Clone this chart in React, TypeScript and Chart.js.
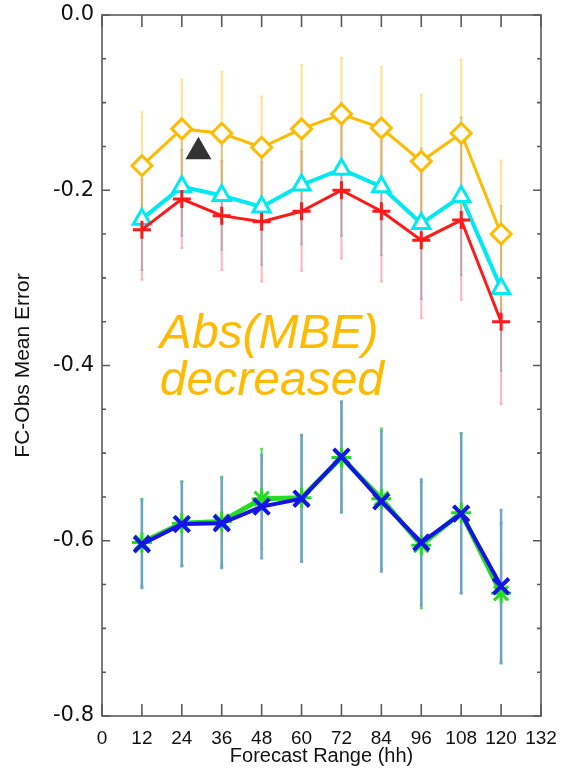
import React, { useEffect, useRef } from "react";
import { Chart, registerables } from "chart.js";

Chart.register(...registerables);

// ---- data ----
const hours = [12, 24, 36, 48, 60, 72, 84, 96, 108, 120];

const yellowMean = [-0.172, -0.130, -0.135, -0.151, -0.130, -0.113, -0.129, -0.167, -0.135, -0.250];
const yellowErr = [0.061, 0.056, 0.070, 0.058, 0.073, 0.064, 0.070, 0.076, 0.084, 0.084];

const cyanMean = [-0.233, -0.196, -0.206, -0.219, -0.194, -0.176, -0.196, -0.238, -0.207, -0.312];
const cyanErr = [0.058, 0.056, 0.062, 0.066, 0.068, 0.076, 0.078, 0.086, 0.090, 0.094];

const redMean = [-0.245, -0.210, -0.229, -0.236, -0.224, -0.200, -0.224, -0.257, -0.234, -0.350];
const redErr = [0.057, 0.056, 0.062, 0.068, 0.068, 0.078, 0.080, 0.089, 0.091, 0.094];

const greenMean = [-0.602, -0.580, -0.578, -0.552, -0.551, -0.505, -0.552, -0.605, -0.568, -0.660];
const greenErr = [0.050, 0.048, 0.051, 0.057, 0.072, 0.063, 0.080, 0.072, 0.091, 0.080];

const blueMean = [-0.604, -0.581, -0.580, -0.561, -0.552, -0.504, -0.555, -0.602, -0.569, -0.652];
const blueErr = [0.050, 0.048, 0.051, 0.059, 0.072, 0.063, 0.080, 0.072, 0.091, 0.087];

const xTicks = [0, 12, 24, 36, 48, 60, 72, 84, 96, 108, 120, 132];
const yTicks = [0, -0.2, -0.4, -0.6, -0.8];
const yMinorTicks = [-0.05, -0.1, -0.15, -0.25, -0.3, -0.35, -0.45, -0.5, -0.55, -0.65, -0.7, -0.75];

const triangleMarker = [{ x: 29, y: -0.156 }];
const annotationLines = ["Abs(MBE)", "decreased"];
const annotationAnchor = { x: 17.4, y1: -0.380, y2: -0.434 };

const xTitle = "Forecast Range (hh)";
const yTitle = "FC-Obs Mean Error";

const ORANGE = "#FFBB00";

const toPts = (vals: number[]) => hours.map((h, i) => ({ x: h, y: vals[i] }));

const errorSpecs = [
  { mean: greenMean, err: greenErr, color: "rgba(60,220,60,0.9)", width: 2 },
  { mean: blueMean, err: blueErr, color: "rgba(110,160,205,0.95)", width: 2.5 },
  { mean: redMean, err: redErr, color: "rgba(255,120,140,0.55)", width: 2 },
  { mean: cyanMean, err: cyanErr, color: "rgba(110,140,150,0.45)", width: 2 },
  { mean: yellowMean, err: yellowErr, color: "rgba(255,200,40,0.5)", width: 2 },
];

const errorBarPlugin = {
  id: "errorBars",
  beforeDatasetsDraw(chart: any) {
    const { ctx, scales } = chart;
    const x = scales.x;
    const y = scales.y;
    ctx.save();
    errorSpecs.forEach((spec) => {
      ctx.strokeStyle = spec.color;
      ctx.lineWidth = spec.width;
      hours.forEach((h, i) => {
        const px = x.getPixelForValue(h);
        const top = y.getPixelForValue(spec.mean[i] + spec.err[i]);
        const bot = y.getPixelForValue(spec.mean[i] - spec.err[i]);
        ctx.beginPath();
        ctx.moveTo(px, top);
        ctx.lineTo(px, bot);
        ctx.moveTo(px - 1.5, top);
        ctx.lineTo(px + 1.5, top);
        ctx.moveTo(px - 1.5, bot);
        ctx.lineTo(px + 1.5, bot);
        ctx.stroke();
      });
    });
    ctx.restore();
  },
};

const framePlugin = {
  id: "frame",
  afterDatasetsDraw(chart: any) {
    const { ctx, chartArea, scales } = chart;
    const x = scales.x;
    const y = scales.y;
    const { left, right, top, bottom } = chartArea;
    ctx.save();
    // annotation text
    ctx.fillStyle = ORANGE;
    ctx.font = "italic 48px 'Liberation Sans', Arial, sans-serif";
    ctx.textAlign = "left";
    ctx.textBaseline = "alphabetic";
    const ax = x.getPixelForValue(annotationAnchor.x);
    ctx.fillText(annotationLines[0], ax, y.getPixelForValue(annotationAnchor.y1));
    ctx.fillText(annotationLines[1], ax, y.getPixelForValue(annotationAnchor.y2));

    // frame
    ctx.strokeStyle = "#5a5a5a";
    ctx.lineWidth = 1.6;
    ctx.strokeRect(left, top, right - left, bottom - top);
    ctx.beginPath();
    xTicks.forEach((v) => {
      const px = x.getPixelForValue(v);
      ctx.moveTo(px, bottom);
      ctx.lineTo(px, bottom - 12);
      ctx.moveTo(px, top);
      ctx.lineTo(px, top + 12);
    });
    yTicks.forEach((v) => {
      const py = y.getPixelForValue(v);
      ctx.moveTo(left, py);
      ctx.lineTo(left + 8, py);
      ctx.moveTo(right, py);
      ctx.lineTo(right - 8, py);
    });
    yMinorTicks.forEach((v) => {
      const py = y.getPixelForValue(v);
      ctx.moveTo(left, py);
      ctx.lineTo(left + 4, py);
      ctx.moveTo(right, py);
      ctx.lineTo(right - 4, py);
    });
    ctx.stroke();
    ctx.restore();
  },
};

export default function App() {
  const ref = useRef<HTMLCanvasElement | null>(null);

  useEffect(() => {
    if (!ref.current) return;
    const chart = new Chart(ref.current, {
      type: "line",
      data: {
        datasets: [
          {
            label: "marker",
            data: triangleMarker,
            showLine: false,
            pointStyle: "triangle",
            pointRadius: 15,
            pointBackgroundColor: "#333333",
            pointBorderColor: "#333333",
            pointBorderWidth: 0,
          },
          {
            label: "blue",
            data: toPts(blueMean),
            borderColor: "#1414E6",
            borderWidth: 4,
            pointStyle: "crossRot",
            pointRadius: 11,
            pointBorderColor: "#1414E6",
            pointBorderWidth: 4,
            tension: 0,
          },
          {
            label: "green",
            data: toPts(greenMean),
            borderColor: "#22DD22",
            borderWidth: 5,
            pointStyle: "star",
            pointRadius: 10,
            pointBorderColor: "#22DD22",
            pointBorderWidth: 3,
            tension: 0,
          },
          {
            label: "red",
            data: toPts(redMean),
            borderColor: "#FF1A1A",
            borderWidth: 3,
            pointStyle: "cross",
            pointRadius: 9,
            pointBorderColor: "#FF1A1A",
            pointBorderWidth: 3,
            tension: 0,
          },
          {
            label: "cyan",
            data: toPts(cyanMean),
            borderColor: "#00E8F0",
            borderWidth: 4,
            pointStyle: "triangle",
            pointRadius: 10,
            pointBorderColor: "#00E8F0",
            pointBackgroundColor: "#ffffff",
            pointBorderWidth: 3,
            tension: 0,
          },
          {
            label: "yellow",
            data: toPts(yellowMean),
            borderColor: ORANGE,
            borderWidth: 3,
            pointStyle: "rectRot",
            pointRadius: 10,
            pointBorderColor: ORANGE,
            pointBackgroundColor: "#ffffff",
            pointBorderWidth: 3,
            tension: 0,
          },
        ],
      },
      options: {
        animation: false,
        responsive: false,
        layout: { padding: { left: 0, top: 10, right: 20, bottom: 0 } },
        plugins: { legend: { display: false }, tooltip: { enabled: false } },
        scales: {
          x: {
            type: "linear",
            min: 0,
            max: 132,
            afterBuildTicks: (s: any) => {
              s.ticks = xTicks.map((v) => ({ value: v }));
            },
            afterFit: (s: any) => {
              s.height = 56;
            },
            grid: { display: false },
            border: { display: false },
            ticks: {
              color: "#111",
              padding: 3,
              maxRotation: 0,
              autoSkip: false,
              font: { family: "'Liberation Sans', Arial, sans-serif", size: 19 },
              callback: (v: any) => String(v),
            },
            title: {
              display: true,
              text: xTitle,
              color: "#111",
              font: { family: "'Liberation Sans', Arial, sans-serif", size: 20 },
              padding: { top: 0, bottom: 4 },
            },
          },
          y: {
            type: "linear",
            min: -0.8,
            max: 0,
            afterBuildTicks: (s: any) => {
              s.ticks = yTicks.map((v) => ({ value: v }));
            },
            afterFit: (s: any) => {
              s.width = 102;
            },
            grid: { display: false },
            border: { display: false },
            ticks: {
              color: "#111",
              padding: 0,
              autoSkip: false,
              font: { family: "'DejaVu Sans', sans-serif", size: 21 },
              callback: (v: any) => Number(v).toFixed(1),
            },
            title: {
              display: true,
              text: yTitle,
              color: "#111",
              font: { family: "'Liberation Sans', Arial, sans-serif", size: 21 },
              padding: { top: 11, bottom: 0 },
            },
          },
        },
      },
      plugins: [errorBarPlugin, framePlugin],
    });
    return () => chart.destroy();
  }, []);

  return (
    <div style={{ position: "absolute", left: 0, top: 0, width: 561, height: 772, background: "#fff" }}>
      <canvas ref={ref} width={561} height={772} style={{ width: 561, height: 772, display: "block" }} />
    </div>
  );
}
